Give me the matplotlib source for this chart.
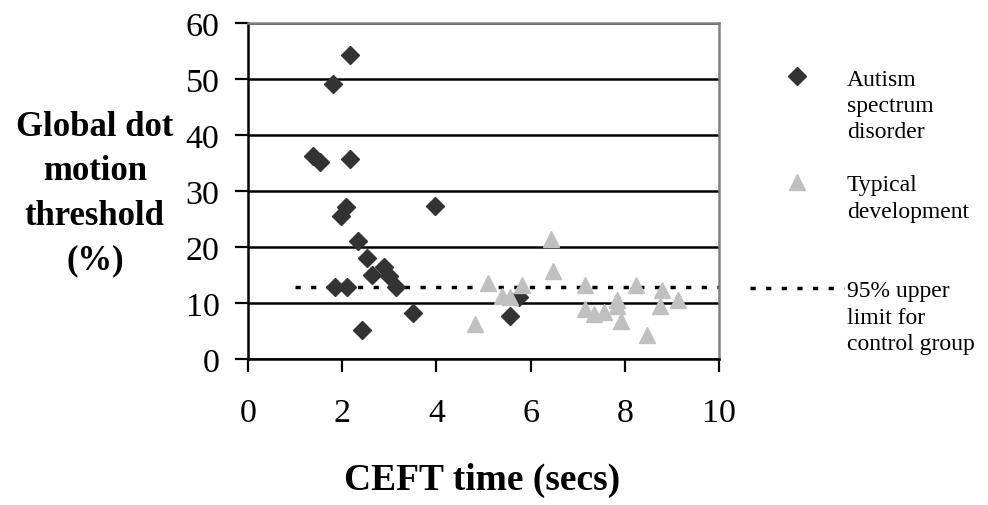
import matplotlib
matplotlib.use('Agg')
import matplotlib.pyplot as plt
from matplotlib.lines import Line2D

plt.rcParams['font.family'] = ['Liberation Serif', 'DejaVu Serif']

# Autism spectrum disorder group
asd_time = [1.38, 1.53, 1.80, 1.85, 1.97, 2.09, 2.11, 2.17, 2.17, 2.33,
            2.42, 2.52, 2.63, 2.88, 2.99, 3.15, 3.50, 3.96, 5.56, 5.75]
asd_thresh = [36.3, 35.2, 49.1, 12.8, 25.6, 27.2, 12.8, 54.3, 35.7, 21.1,
              5.1, 18.1, 15.0, 16.5, 14.8, 12.8, 8.2, 27.3, 7.6, 11.0]

# Typical development group
td_time = [4.83, 5.09, 5.40, 5.56, 5.81, 6.44, 6.48, 7.15, 7.15, 7.35,
           7.56, 7.84, 7.84, 7.91, 8.23, 8.48, 8.79, 8.74, 9.14]
td_thresh = [6.3, 13.6, 11.3, 11.0, 13.2, 21.4, 15.8, 13.2, 8.9, 8.0,
             8.4, 10.6, 9.5, 6.7, 13.2, 4.2, 12.3, 9.5, 10.6]

# 95% upper limit for control group
limit_x = [1.0, 10.0]
limit_y = 12.8

x_ticks = [0, 2, 4, 6, 8, 10]
y_ticks = [0, 10, 20, 30, 40, 50, 60]

dark = '#333333'
light = '#c0c0c0'
dots = (0, (1.5, 3.0))

fig = plt.figure(figsize=(9.88, 5.06), dpi=100)
ax = fig.add_axes([248 / 988, 1 - 360 / 506, (719 - 248) / 988, (360 - 24) / 506])

ax.plot(limit_x, [limit_y, limit_y], color='black', lw=2.5, ls=dots, zorder=2)
ax.plot(asd_time, asd_thresh, ls='none', marker='D', ms=9.5, color=dark, zorder=3)
ax.plot(td_time, td_thresh, ls='none', marker='^', ms=12, color=light, zorder=4)

ax.set_xlim(0, 10)
ax.set_ylim(0, 60)
ax.set_xticks(x_ticks)
ax.set_yticks(y_ticks)
ax.tick_params(axis='both', direction='out', length=9.5, width=1.6,
               labelsize=24.5, color='black')
ax.tick_params(axis='x', pad=18)
ax.tick_params(axis='y', pad=11)

ax.set_axisbelow(True)
ax.yaxis.grid(True, color='black', lw=1.8)
for side in ['left', 'bottom']:
    ax.spines[side].set_color('black')
    ax.spines[side].set_linewidth(1.8)
for side in ['top', 'right']:
    ax.spines[side].set_color('#808080')
    ax.spines[side].set_linewidth(1.8)

ax.set_ylabel('Global dot\nmotion\nthreshold\n(%)', rotation=0, fontsize=25,
              fontweight='bold', ha='center', va='center', linespacing=1.45)
ax.yaxis.set_label_coords(-0.325, 0.494)
ax.set_xlabel('CEFT time (secs)', fontsize=27, fontweight='bold', va='center')
ax.xaxis.set_label_coords(0.497, -0.358)

blank = Line2D([], [], ls='none')
handles = [
    Line2D([], [], ls='none', marker='D', ms=9.5, color=dark), blank, blank, blank,
    Line2D([], [], ls='none', marker='^', ms=12, color=light), blank, blank, blank,
    Line2D([], [], color='black', lw=2.5, ls=dots), blank, blank,
]
labels = ['Autism', 'spectrum', 'disorder', '',
          'Typical', 'development', '', '',
          '95% upper', 'limit for', 'control group']
fig.legend(handles, labels, loc='upper left', bbox_to_anchor=(750 / 988, 1 - 69 / 506),
           frameon=False, fontsize=17, handlelength=4.0, handletextpad=0.1,
           labelspacing=0.21, borderpad=0, borderaxespad=0)

fig.savefig('out.png', dpi=100)
